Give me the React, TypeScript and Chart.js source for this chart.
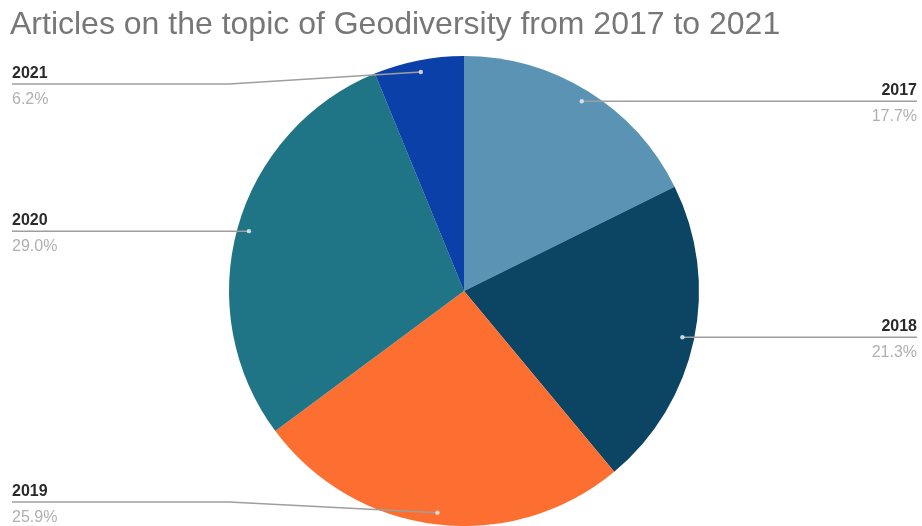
import React, { useEffect, useRef } from "react";
import { Chart, registerables } from "chart.js";

Chart.register(...registerables);

const TITLE = "Articles on the topic of Geodiversity from 2017 to 2021";
const categories = ["2017", "2018", "2019", "2020", "2021"];
const values = [17.7, 21.3, 25.9, 29.0, 6.2];
const colors = ["#5a93b4", "#0b4563", "#fd6f30", "#1f7585", "#0c40a9"];

const labelPlugin = {
  id: "pieLabels",
  afterDraw(chart: any) {
    const ctx = chart.ctx as CanvasRenderingContext2D;
    const W = chart.width;
    // title
    ctx.save();
    ctx.font = "32px 'Liberation Sans', Arial, sans-serif";
    ctx.fillStyle = "#777777";
    ctx.textAlign = "left";
    ctx.textBaseline = "alphabetic";
    ctx.fillText(TITLE, 10, 34);
    ctx.restore();

    const meta = chart.getDatasetMeta(0);
    const total = values.reduce((a, b) => a + b, 0);
    meta.data.forEach((arc: any, i: number) => {
      const p = arc.getProps(["x", "y", "startAngle", "endAngle", "outerRadius"], true);
      const mid = (p.startAngle + p.endAngle) / 2;
      const px = p.x + Math.cos(mid) * p.outerRadius * 0.95;
      const py = p.y + Math.sin(mid) * p.outerRadius * 0.95;
      const right = Math.cos(mid) >= 0;
      const lineY = Math.min(Math.max(py, 84), 502);
      const edgeX = right ? W - 5 : 12;
      const bendX = right ? p.x + p.outerRadius : p.x - p.outerRadius;
      ctx.save();
      ctx.strokeStyle = "#9e9e9e";
      ctx.lineWidth = 1.5;
      ctx.beginPath();
      ctx.moveTo(edgeX, lineY);
      if (Math.abs(lineY - py) > 0.5) {
        ctx.lineTo(bendX, lineY);
      }
      ctx.lineTo(px, py);
      ctx.stroke();
      ctx.fillStyle = "rgba(230,235,240,0.85)";
      ctx.beginPath();
      ctx.arc(px, py, 2.2, 0, Math.PI * 2);
      ctx.fill();
      ctx.textAlign = right ? "right" : "left";
      ctx.textBaseline = "alphabetic";
      ctx.font = "bold 16px 'Liberation Sans', Arial, sans-serif";
      ctx.fillStyle = "#2a2a2a";
      ctx.fillText(categories[i], edgeX, lineY - 6);
      ctx.font = "16px 'Liberation Sans', Arial, sans-serif";
      ctx.fillStyle = "#b0b0b0";
      const pct = ((values[i] / total) * 100).toFixed(1) + "%";
      ctx.fillText(pct, edgeX, lineY + 20);
      ctx.restore();
    });
  },
};

export default function App() {
  const ref = useRef<HTMLCanvasElement>(null);
  useEffect(() => {
    document.body.style.margin = "0";
    const chart = new Chart(ref.current as HTMLCanvasElement, {
      type: "pie",
      data: {
        labels: categories,
        datasets: [
          {
            data: values,
            backgroundColor: colors,
            borderWidth: 0,
          },
        ],
      },
      options: {
        responsive: false,
        animation: false,
        layout: { padding: { top: 56, bottom: 0, left: 229, right: 223 } },
        plugins: {
          legend: { display: false },
          title: { display: false },
          tooltip: { enabled: false },
        },
      },
      plugins: [labelPlugin],
    });
    return () => chart.destroy();
  }, []);
  return (
    <div style={{ width: 922, height: 526, background: "#fff" }}>
      <canvas ref={ref} width={922} height={526} />
    </div>
  );
}
